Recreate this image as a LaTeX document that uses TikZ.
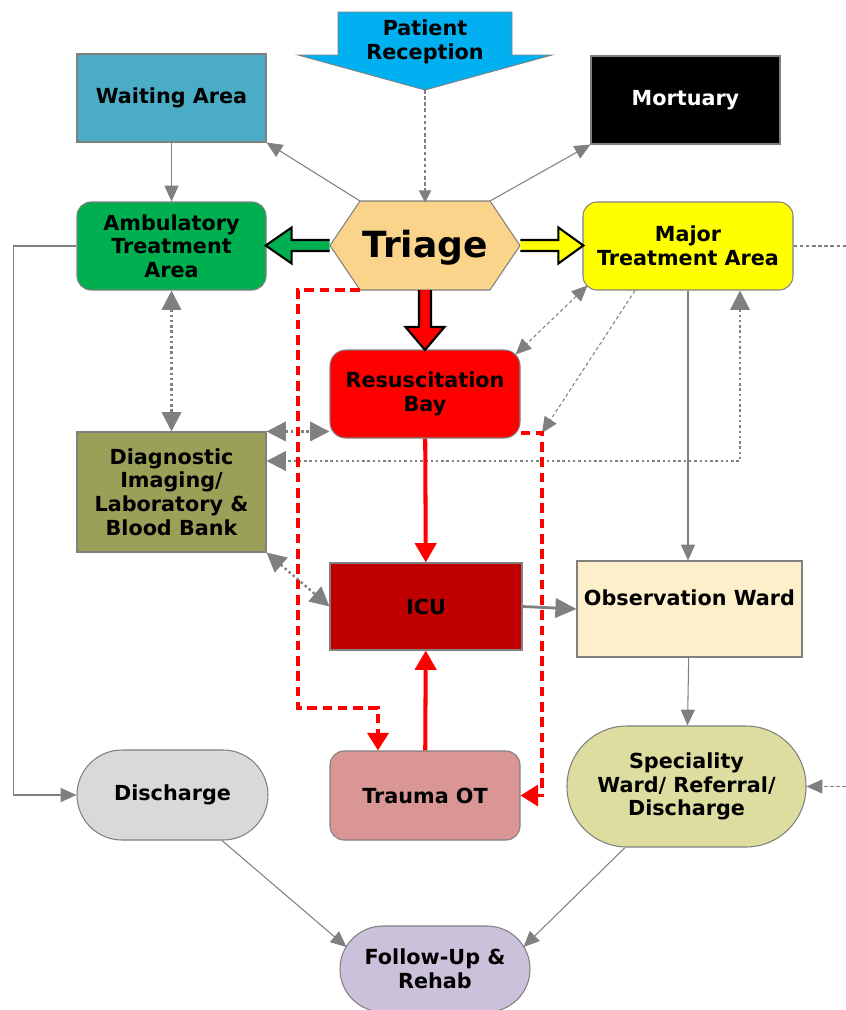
\documentclass[tikz,border=0pt]{standalone}
\usepackage{fontspec}
\setmainfont{DejaVu Sans}
\usetikzlibrary{positioning,arrows.meta,calc}

\definecolor{cRecep}{RGB}{0,176,240}
\definecolor{cWait}{RGB}{75,172,198}
\definecolor{cAmb}{RGB}{0,176,80}
\definecolor{cTriage}{RGB}{250,212,138}
\definecolor{cMajor}{RGB}{255,255,0}
\definecolor{cDiag}{RGB}{155,160,88}
\definecolor{cIcu}{RGB}{192,0,0}
\definecolor{cObs}{RGB}{253,239,202}
\definecolor{cDisch}{RGB}{217,217,217}
\definecolor{cTrauma}{RGB}{217,150,148}
\definecolor{cSpec}{RGB}{222,221,160}
\definecolor{cFollow}{RGB}{204,193,218}

\begin{document}
\begin{tikzpicture}[
  >={Triangle[length=9pt,width=8pt]},
  every node/.style={font=\bfseries\fontsize{11.8}{13.5}\selectfont, align=center},
  box/.style={draw=gray, line width=0.6pt, minimum width=3.78cm, minimum height=1.76cm, inner sep=2pt},
  rbox/.style={box, rounded corners=8pt},
  pill/.style={box, rounded corners=0.9cm},
  e/.style={->, draw=gray, line width=0.6pt},
  ed/.style={e, dash pattern=on 2pt off 1.5pt},
  dd/.style={<->, draw=gray, line width=1.4pt, dash pattern=on 1.4pt off 1.6pt, >={Triangle[length=11pt,width=11pt]}},
  rr/.style={->, draw=red, line width=2.3pt, >={Triangle[length=11pt,width=12pt]}},
  rd/.style={->, draw=red, line width=1.9pt, dash pattern=on 5.5pt off 3.2pt, >={Triangle[length=10pt,width=12pt]}},
  blk/.style={draw=black, line width=1.2pt, line join=miter}
]
\useasboundingbox (0,0) rectangle (16.92,-20.2);

% reception arrow
\filldraw[fill=cRecep, draw=gray, line width=0.5pt] (6.76,-0.24) -- (10.24,-0.24) -- (10.24,-1.1) -- (11.04,-1.1) -- (8.5,-1.8) -- (5.96,-1.1) -- (6.76,-1.1) -- cycle;
\node (recep) at (8.5,-0.84) {Patient\\Reception};
\coordinate (rtip) at (8.5,-1.8);

% triage hexagon
\filldraw[fill=cTriage, draw=gray, line width=0.6pt] (6.6,-4.91) -- (7.2,-4.02) -- (9.8,-4.02) -- (10.4,-4.91) -- (9.8,-5.8) -- (7.2,-5.8) -- cycle;
\node[minimum width=3.8cm, minimum height=1.78cm, inner sep=0pt, font=\bfseries\fontsize{20.5}{24}\selectfont] (triage) at (8.5,-4.95) {Triage};
\coordinate (tnw) at (7.2,-4.02);
\coordinate (tne) at (9.8,-4.02);
\coordinate (tsw) at (7.2,-5.8);

\node[box, fill=cWait] (wait) at (3.43,-1.96) {Waiting Area};
\node[box, fill=black, text=white] (mort) at (13.71,-2.0) {Mortuary};
\node[rbox, fill=cAmb] (amb) at (3.43,-4.92) {Ambulatory\\Treatment\\Area};
\node[rbox, fill=cMajor, minimum width=4.2cm] (major) at (13.76,-4.92) {Major\\Treatment Area};
\node[rbox, fill=red, minimum width=3.8cm, rounded corners=9pt] (resus) at (8.5,-7.88) {Resuscitation\\Bay};
\node[box, fill=cDiag, minimum height=2.4cm] (diag) at (3.43,-9.84) {Diagnostic\\Imaging/\\Laboratory \&\\Blood Bank};
\node[box, fill=cIcu, minimum width=3.84cm, minimum height=1.74cm] (icu) at (8.52,-12.13) {ICU};
\node[box, fill=cObs, minimum width=4.5cm, minimum height=1.92cm, text depth=0.45cm] (obs) at (13.79,-12.18) {Observation Ward};
\node[pill, fill=cDisch, minimum width=3.82cm, minimum height=1.8cm] (disch) at (3.45,-15.9) {Discharge};
\node[rbox, fill=cTrauma, minimum width=3.8cm, minimum height=1.78cm] (trauma) at (8.5,-15.91) {Trauma OT};
\node[pill, fill=cSpec, minimum width=4.78cm, minimum height=2.42cm, rounded corners=1.2cm] (spec) at (13.73,-15.73) {Speciality\\Ward/ Referral/\\Discharge};
\node[pill, fill=cFollow, minimum width=3.8cm, minimum height=1.72cm, rounded corners=0.86cm] (follow) at (8.7,-19.38) {Follow-Up \&\\Rehab};

\coordinate (rdc) at (10.84,-8.66);
\coordinate (mright) at (16.92,-4.92);
\coordinate (sright) at (16.92,-15.73);

% block arrows out of triage
\filldraw[blk, fill=cAmb] ($(triage.west)+(0,0.15)$) -- ++(-0.76,0) -- ++(0,0.25) -- ++(-0.52,-0.36) -- ++(0.52,-0.36) -- ++(0,0.25) -- ++(0.76,0);
\filldraw[blk, fill=cMajor] ($(triage.east)+(0,0.15)$) -- ++(0.76,0) -- ++(0,0.25) -- ++(0.5,-0.36) -- ++(-0.5,-0.36) -- ++(0,0.25) -- ++(-0.76,0);
\filldraw[blk, fill=red] (7.9,-5.8) ++(0.48,0) -- ++(0,-0.74) -- ++(-0.27,0) -- ++(0.39,-0.46) -- ++(0.39,0.46) -- ++(-0.27,0) -- ++(0,0.74);

% gray connectors
\draw[ed, >={Triangle[length=7pt,width=7pt]}] (rtip) -- (triage.north);
\draw[e] (tnw) -- (wait.south east);
\draw[e] (tne) -- (mort.south west);
\draw[e] (wait) -- (amb);
\draw[e] (amb.west) -- ++(-1.26,0) |- (disch.west);
\draw[ed, -] (major.east) -- (mright);
\draw[ed] (sright) -- (spec.east);
\draw[ed, <->] ([shift={(0.1,0.1)}]major.south west) -- ([shift={(-0.1,-0.1)}]resus.north east);
\draw[ed] ([xshift=-1.06cm]major.south) -- (rdc);
\draw[e] (major.south) -- (major.south |- obs.north);
\draw[e] (obs) -- (spec);
\draw[e] ([xshift=0.99cm]disch.south) -- ([shift={(0.14,0.44)}]follow.west);
\draw[e] ([xshift=-1.23cm]spec.south) -- ([shift={(-0.14,0.44)}]follow.east);
\draw[e, line width=1.6pt, >={Triangle[length=12pt,width=11pt]}] (icu.east) -- (obs.west);

% dotted two-way links
\draw[dd] (amb) -- (diag);
\draw[dd] (diag.north east) -- (diag.north east -| resus.west);
\draw[dd] ([xshift=1.04cm]major.south) |- ([yshift=0.62cm]diag.east);
\draw[dd] (diag.south east) -- (icu.west);

% red paths
\draw[rr] (resus) -- (icu);
\draw[rr] (trauma) -- (icu);
\draw[rd] (tsw) -- ++(-1.24,0) -- ++(0,-8.36) -| ([xshift=-0.94cm]trauma.north);
\draw[rd] ([yshift=-0.78cm]resus.east) -- (rdc) |- (trauma.east);
\end{tikzpicture}
\end{document}
